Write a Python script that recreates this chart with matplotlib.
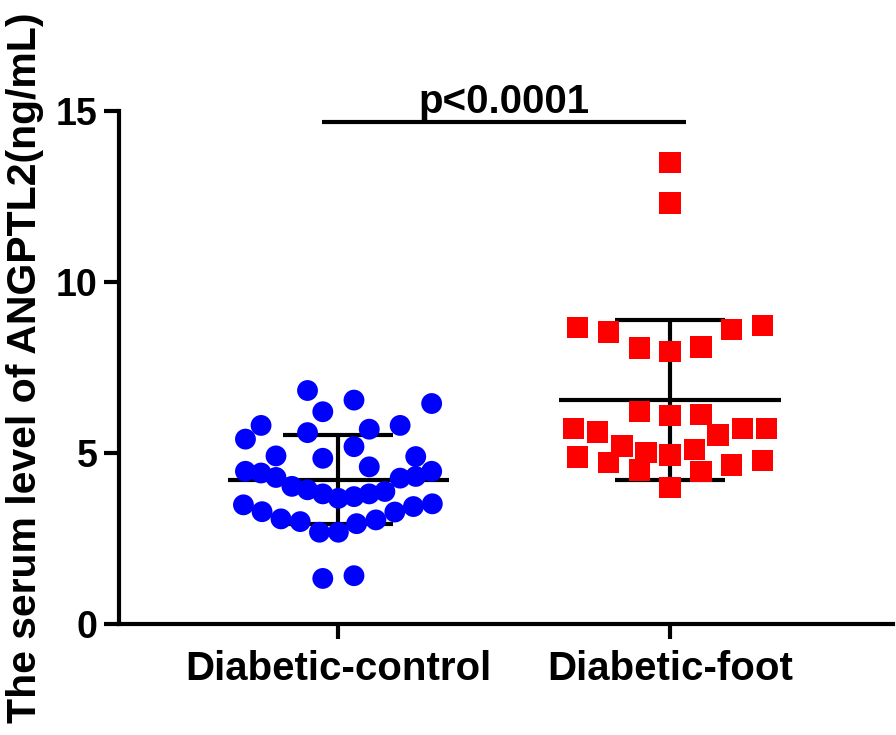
import numpy as np
import matplotlib
matplotlib.use("Agg")
import matplotlib.pyplot as plt

categories = ["Diabetic-control", "Diabetic-foot"]

control_values = [6.83, 6.55, 6.45, 6.21, 5.81, 5.81, 5.70, 5.60, 5.41, 5.19,
                  4.92, 4.85, 4.90, 4.60, 4.47, 4.42, 4.47, 4.32, 4.29, 4.27,
                  4.03, 3.93, 3.81, 3.68, 3.73, 3.81, 3.88, 3.49, 3.29, 3.08,
                  3.00, 2.69, 2.69, 2.94, 3.05, 3.28, 3.44, 3.52, 1.34, 1.42]
control_offsets = [-0.092, 0.048, 0.282, -0.046, -0.232, 0.187, 0.094, -0.092, -0.279, 0.048,
                   -0.187, -0.046, 0.234, 0.094, -0.279, -0.232, 0.282, 0.234, -0.187, 0.187,
                   -0.139, -0.092, -0.046, 0.001, 0.048, 0.094, 0.141, -0.285, -0.229, -0.172,
                   -0.114, -0.056, 0.001, 0.056, 0.114, 0.171, 0.227, 0.284, -0.046, 0.048]

foot_values = [13.50, 12.31, 8.68, 8.54, 8.62, 8.73, 8.07, 7.96, 8.10, 6.21,
               6.09, 6.13, 5.72, 5.62, 5.72, 5.72, 5.53, 5.21, 5.02, 4.95,
               5.10, 4.89, 4.73, 4.51, 4.46, 4.65, 4.78, 4.00]
foot_offsets = [0.0, 0.0, -0.279, -0.186, 0.186, 0.279, -0.092, 0.0, 0.093, -0.092,
                0.0, 0.093, -0.291, -0.218, 0.219, 0.291, 0.145, -0.145, -0.072, 0.0,
                0.073, -0.279, -0.186, -0.092, 0.093, 0.186, 0.279, 0.0]

y_ticks = [0, 5, 10, 15]
p_text = "p<0.0001"

plt.rcParams['font.family'] = ['Liberation Sans', 'DejaVu Sans']
plt.rcParams['font.weight'] = 'bold'

fig = plt.figure(figsize=(8.96, 7.35), dpi=100)
ax = fig.add_axes([0.1328, 0.1506, 0.8639, 0.6986])

groups = [
    (control_values, control_offsets, 'o', '#0000FF', 225),
    (foot_values, foot_offsets, 's', '#FF0000', 235),
]
for i, (vals, offs, mk, col, sz) in enumerate(groups):
    v = np.array(vals)
    x = i + np.array(offs)
    m = v.mean()
    sd = v.std(ddof=1)
    ax.plot([i - 0.333, i + 0.333], [m, m], color='black', lw=3, zorder=2, solid_capstyle='butt')
    ax.plot([i, i], [m - sd, m + sd], color='black', lw=3, zorder=2, solid_capstyle='butt')
    for yy in (m - sd, m + sd):
        ax.plot([i - 0.165, i + 0.165], [yy, yy], color='black', lw=3, zorder=2, solid_capstyle='butt')
    ax.scatter(x, v, marker=mk, s=sz, color=col, edgecolors='none', zorder=3)

ax.set_xlim(-0.66, 1.672)
ax.set_ylim(0, 15)
ax.set_xticks([0, 1])
ax.set_xticklabels(categories, fontsize=29, fontweight='bold')
ax.set_yticks(y_ticks)
ax.set_yticklabels([str(t) for t in y_ticks], fontsize=27, fontweight='bold')
ax.tick_params(axis='both', direction='out', length=10.5, width=3)
ax.tick_params(axis='x', pad=8)
ax.tick_params(axis='y', pad=5)
for s in ['top', 'right']:
    ax.spines[s].set_visible(False)
for s in ['left', 'bottom']:
    ax.spines[s].set_linewidth(3)
ax.set_ylabel("The serum level of ANGPTL2(ng/mL)", fontsize=29.5, fontweight='bold',
              ha='center', va='center')
ax.yaxis.set_label_coords(-0.122, 0.50)

# significance bar
ax.plot([-0.049, 1.047], [14.67, 14.67], color='black', lw=3, clip_on=False, solid_capstyle='butt')
ax.text(0.5, 14.93, p_text, ha='center', va='baseline', fontsize=29, fontweight='bold')

fig.savefig("out.png", dpi=100)
